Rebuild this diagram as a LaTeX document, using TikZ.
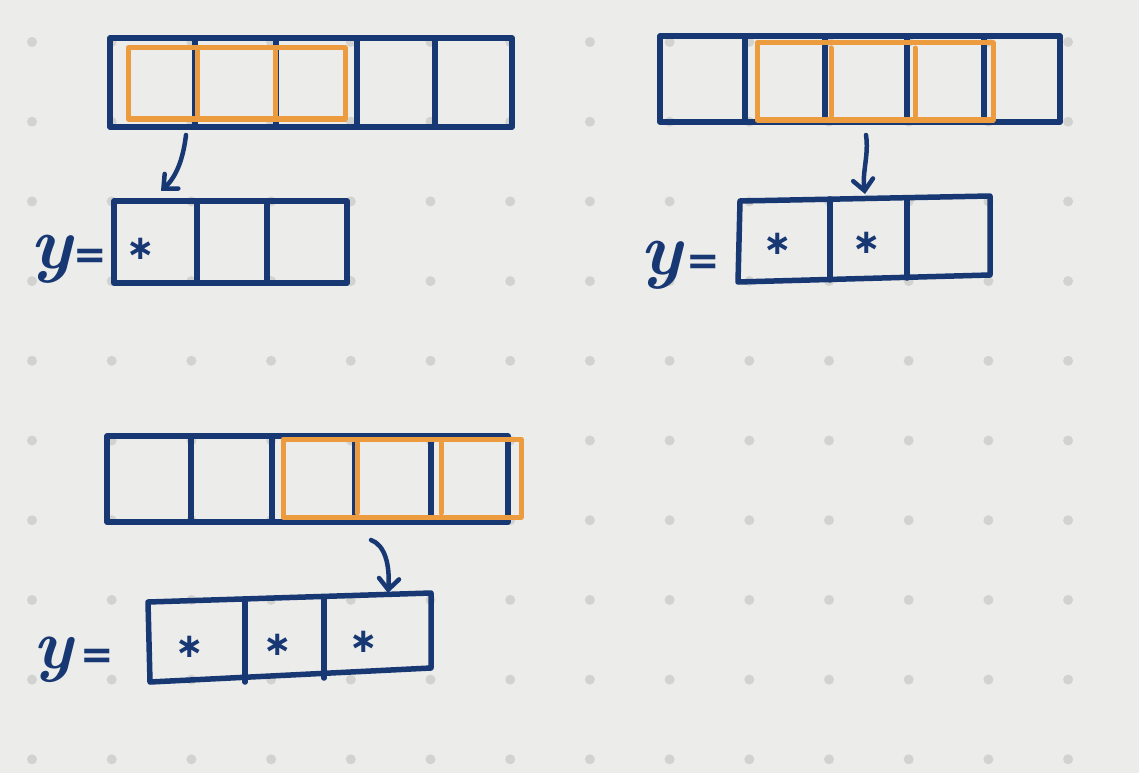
\documentclass[tikz,border=0pt]{standalone}
\usepackage{fontspec}
\newfontfamily\symfont{DejaVu Sans}
\usetikzlibrary{arrows.meta}
\definecolor{navy}{RGB}{24,56,116}
\definecolor{amber}{RGB}{236,156,62}
\definecolor{paper}{RGB}{236,236,234}
\definecolor{dotc}{RGB}{210,210,208}
\tikzset{
  blueline/.style={draw=navy,line width=5.5pt,line cap=round,line join=round},
  orangeline/.style={draw=amber,line width=5pt,line cap=round,line join=round},
  handarrow/.style={draw=navy,line width=4.5pt,line cap=round,line join=round,
     -{Straight Barb[length=11pt,width=20pt,line cap=round]}},
  ylab/.style={text=navy,inner sep=0pt,anchor=base west},
  star/.style={text=navy,inner sep=0pt,font=\symfont\bfseries\fontsize{34}{34}\selectfont}
}
\newcommand{\ylet}[1]{{\fontsize{#1}{#1}\selectfont\bfseries\itshape y}}
\newcommand{\eqsign}{{\symfont\bfseries\fontsize{40}{40}\selectfont=}}
\begin{document}
\begin{tikzpicture}[x=1pt,y=-1pt]
\fill[paper] (0,0) rectangle (1139,773);
\useasboundingbox (0,0) rectangle (1139,773);
% dot grid
\foreach \i in {0,...,13}{
  \foreach \j in {0,...,9}{
    \fill[dotc] ({32+79.7*\i},{42+79.7*\j}) circle (5pt);
  }
}
% ---------- array A (top-left)
\draw[blueline] (110,38) rectangle (512,127);
\foreach \x in {195,276,357,435} \draw[blueline] (\x,38) -- (\x,127);
\draw[orangeline] (128,48) rectangle (345,119);
\foreach \x in {197,275} \draw[orangeline] (\x,50) -- (\x,117);
% ---------- array B (top-right)
\draw[blueline] (660,36) rectangle (1060,122);
\foreach \x in {745,825,907,984} \draw[blueline] (\x,36) -- (\x,122);
\draw[orangeline] (757,43) rectangle (993,120);
\foreach \x in {831,915} \draw[orangeline] (\x,48) -- (\x,116);
% ---------- array C (bottom-left)
\draw[blueline] (107,436) rectangle (508,522);
\foreach \x in {191,272,355,431} \draw[blueline] (\x,436) -- (\x,522);
\draw[orangeline] (283,439) rectangle (521,517);
\foreach \x in {357,441} \draw[orangeline] (\x,443) -- (\x,513);
% ---------- result Y1
\draw[blueline] (114,201) rectangle (347,283);
\foreach \x in {197,267} \draw[blueline] (\x,201) -- (\x,283);
\node[star] (s11) at (141,249) {∗};
\node[ylab] (y1) at (30,268) {\ylet{74}\hspace{2pt}\eqsign};
% ---------- result Y2
\draw[blueline] (740,201) -- (990,196) -- (990,275) -- (738,282) -- cycle;
\draw[blueline] (830,199) -- (830,280);
\draw[blueline] (907,198) -- (907,278);
\node[star] (s21) at (778,244) {∗};
\node[star] (s22) at (867,243) {∗};
\node[ylab] (y2) at (640,274) {\ylet{74}\hspace{5pt}\eqsign};
% ---------- result Y3
\draw[blueline] (148,602) -- (431,593) -- (431,668) -- (150,682) -- cycle;
\draw[blueline] (245,599) -- (245,682);
\draw[blueline] (324,597) -- (324,678);
\node[star] (s31) at (190,647) {∗};
\node[star] (s32) at (278,645) {∗};
\node[star] (s33) at (364,642) {∗};
\node[ylab] (y3) at (33,668) {\ylet{70}\hspace{8pt}\eqsign};
% ---------- arrows
\coordinate (a1s) at (186,135);
\coordinate (a1e) at (161,191);
\draw[handarrow] (a1s) .. controls (183,160) and (176,177) .. (a1e);
\coordinate (a2s) at (866,135);
\coordinate (a2e) at (865,194);
\draw[handarrow] (a2s) .. controls (869,155) and (862,172) .. (a2e);
\coordinate (a3s) at (371,540);
\coordinate (a3e) at (388,593);
\draw[handarrow] (a3s) .. controls (385,545) and (390,565) .. (a3e);
\end{tikzpicture}
\end{document}
